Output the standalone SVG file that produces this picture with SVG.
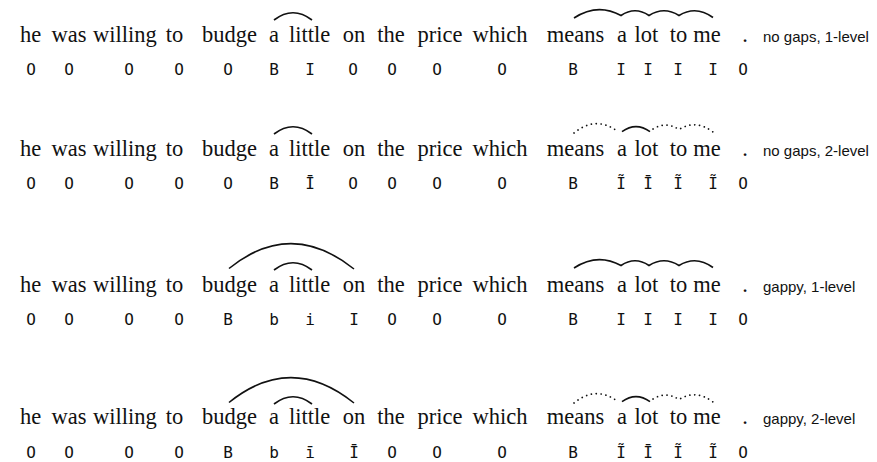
<svg xmlns="http://www.w3.org/2000/svg" width="877" height="462" viewBox="0 0 877 462">
<style>
.w{font-family:"Liberation Serif","DejaVu Serif",serif;font-size:22.5px;fill:#111;text-anchor:middle}
.t{font-family:"DejaVu Sans Mono","Liberation Mono",monospace;font-size:16px;fill:#111;text-anchor:middle}
.l{font-family:"Liberation Sans",Arial,sans-serif;font-size:15px;fill:#111}
.a{fill:none;stroke:#111;stroke-width:1.6}
.d{fill:none;stroke:#111;stroke-width:1.7;stroke-dasharray:0.1 4.8;stroke-linecap:round}
</style>
<defs>
<g id="words">
<text class="w" x="30.5">he</text><text class="w" x="69">was</text><text class="w" x="125">willing</text><text class="w" x="174.5">to</text><text class="w" x="229.5">budge</text><text class="w" x="274">a</text><text class="w" x="309.5">little</text><text class="w" x="354">on</text><text class="w" x="391">the</text><text class="w" x="440">price</text><text class="w" x="500">which</text><text class="w" x="575.5">means</text><text class="w" x="622">a</text><text class="w" x="646.5">lot</text><text class="w" x="678.5">to</text><text class="w" x="707">me</text><text class="w" x="745">.</text>
</g>
</defs>
<g id="row1" transform="translate(0,41.5)">
<use href="#words"/>
<g class="tags" transform="translate(0,33.5)">
<text class="t" x="31">O</text><text class="t" x="69">O</text><text class="t" x="129">O</text><text class="t" x="179">O</text><text class="t" x="228">O</text><text class="t" x="274">B</text><text class="t" x="310">I</text><text class="t" x="353">O</text><text class="t" x="392">O</text><text class="t" x="437">O</text><text class="t" x="502">O</text><text class="t" x="573">B</text><text class="t" x="621">I</text><text class="t" x="648">I</text><text class="t" x="678">I</text><text class="t" x="713">I</text><text class="t" x="743">O</text>
</g>
<text class="l" x="763">no gaps, 1-level</text>
</g>
<g id="row2" transform="translate(0,155.5)">
<use href="#words"/>
<g class="tags" transform="translate(0,33.5)">
<text class="t" x="31">O</text><text class="t" x="69">O</text><text class="t" x="129">O</text><text class="t" x="179">O</text><text class="t" x="228">O</text><text class="t" x="274">B</text><text class="t" x="310">Ī</text><text class="t" x="353">O</text><text class="t" x="392">O</text><text class="t" x="437">O</text><text class="t" x="502">O</text><text class="t" x="573">B</text><text class="t" x="621">Ĩ</text><text class="t" x="648">Ī</text><text class="t" x="678">Ĩ</text><text class="t" x="713">Ĩ</text><text class="t" x="743">O</text>
</g>
<text class="l" x="763">no gaps, 2-level</text>
</g>
<g id="row3" transform="translate(0,291.5)">
<use href="#words"/>
<g class="tags" transform="translate(0,33.5)">
<text class="t" x="31">O</text><text class="t" x="69">O</text><text class="t" x="129">O</text><text class="t" x="179">O</text><text class="t" x="228">B</text><text class="t" x="274">b</text><text class="t" x="310">i</text><text class="t" x="354">I</text><text class="t" x="392">O</text><text class="t" x="437">O</text><text class="t" x="502">O</text><text class="t" x="573">B</text><text class="t" x="621">I</text><text class="t" x="648">I</text><text class="t" x="678">I</text><text class="t" x="713">I</text><text class="t" x="743">O</text>
</g>
<text class="l" x="763">gappy, 1-level</text>
</g>
<g id="row4" transform="translate(0,424)">
<use href="#words"/>
<g class="tags" transform="translate(0,33.5)">
<text class="t" x="31">O</text><text class="t" x="69">O</text><text class="t" x="129">O</text><text class="t" x="179">O</text><text class="t" x="228">B</text><text class="t" x="274">b</text><text class="t" x="310">ī</text><text class="t" x="354">Ī</text><text class="t" x="392">O</text><text class="t" x="437">O</text><text class="t" x="502">O</text><text class="t" x="573">B</text><text class="t" x="621">Ĩ</text><text class="t" x="648">Ī</text><text class="t" x="678">Ĩ</text><text class="t" x="713">Ĩ</text><text class="t" x="743">O</text>
</g>
<text class="l" x="763">gappy, 2-level</text>
</g>
<g id="connectors">
<g transform="translate(0,0)">
<path class="a" d="M274,20 Q293,5.5 312,20"/>
<path class="a" d="M574,18 Q597.5,2.5 621,15.5 Q635,6 649,15.5 Q664,6 679,15.5 Q696,5 713,17.5"/>
</g>
<g transform="translate(0,114)">
<path class="a" d="M274,20 Q293,5.5 312,20"/>
<path class="d" d="M574,19 Q596,1 618,17.7"/>
<path class="a" d="M622,17.7 Q636,7.5 650,17.7"/>
<path class="d" d="M653,15 Q666,7 679,15.5 Q696,5 713,18"/>
</g>
<g transform="translate(0,250)">
<path class="a" d="M229,18.5 Q291,-31.5 354,19"/>
<path class="a" d="M274,20 Q293,5.5 312,20"/>
<path class="a" d="M574,18 Q597.5,2.5 621,15.5 Q635,6 649,15.5 Q664,6 679,15.5 Q696,5 713,17.5"/>
</g>
<g transform="translate(0,384)">
<path class="a" d="M229,18.5 Q291,-31.5 354,19"/>
<path class="a" d="M274,20 Q293,5.5 312,20"/>
<path class="d" d="M574,19 Q596,1 618,17.7"/>
<path class="a" d="M622,17.7 Q636,7.5 650,17.7"/>
<path class="d" d="M653,15 Q666,7 679,15.5 Q696,5 713,18"/>
</g>
</g>
</svg>
